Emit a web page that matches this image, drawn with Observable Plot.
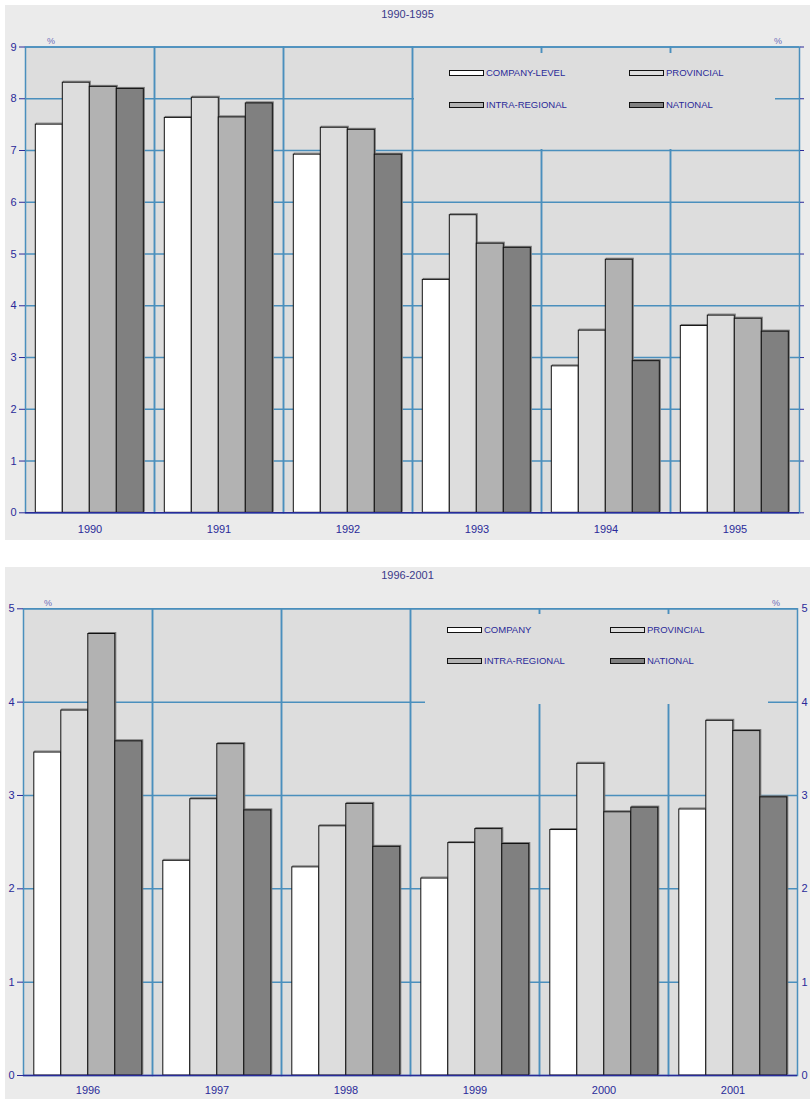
<!DOCTYPE html>
<html>
<head>
<meta charset="utf-8">
<script src="https://cdn.jsdelivr.net/npm/d3@7"></script>
<script src="https://cdn.jsdelivr.net/npm/@observablehq/plot@0.6"></script>
<style>
  body { margin: 0; background: #ffffff; width: 810px; height: 1099px; position: relative; overflow: hidden; font-family: "Liberation Sans", Arial, sans-serif; }
  .panel { position: absolute; left: 5px; width: 805px; background: #ebebeb; overflow: hidden; }
  .panel svg { position: absolute; left: 0; top: 0; }
  .ttl { position: absolute; left: 0; width: 100%; text-align: center; font-size: 11px; color: #3a3a8a; }
  .pct { position: absolute; font-size: 9px; color: #6b6bb8; }
  .legend { position: absolute; background: #dddddd; }
  .item { position: absolute; display: flex; align-items: center; font-size: 9.5px; color: #2a2a99; white-space: nowrap; }
  .sw { width: 33px; height: 4px; border: 1px solid #111; margin-right: 2px; }
</style>
</head>
<body>
<div id="p1" class="panel" style="top:5px;height:535px;"></div>
<div id="p2" class="panel" style="top:567px;height:532px;"></div>
<script>
// ---- data ----
const seriesKeys = ["company", "provincial", "intra", "national"];
const seriesFills = ["#ffffff", "#dddddd", "#b2b2b2", "#808080"];
const legendTop = ["COMPANY-LEVEL", "PROVINCIAL", "INTRA-REGIONAL", "NATIONAL"];
const legendBottom = ["COMPANY", "PROVINCIAL", "INTRA-REGIONAL", "NATIONAL"];

const years1 = ["1990", "1991", "1992", "1993", "1994", "1995"];
const company1 = [7.50, 7.63, 6.92, 4.50, 2.83, 3.61];
const provincial1 = [8.31, 8.02, 7.44, 5.75, 3.52, 3.81];
const intra1 = [8.23, 7.64, 7.40, 5.20, 4.89, 3.75];
const national1 = [8.19, 7.91, 6.92, 5.12, 2.93, 3.50];
const yTicks1 = [0, 1, 2, 3, 4, 5, 6, 7, 8, 9];

const years2 = ["1996", "1997", "1998", "1999", "2000", "2001"];
const company2 = [3.46, 2.30, 2.23, 2.11, 2.63, 2.85];
const provincial2 = [3.91, 2.96, 2.67, 2.49, 3.34, 3.80];
const intra2 = [4.73, 3.55, 2.91, 2.64, 2.82, 3.69];
const national2 = [3.58, 2.84, 2.45, 2.48, 2.87, 2.98];
const yTicks2 = [0, 1, 2, 3, 4, 5];

const GRID = "#4a8fbd";
const AXIS = "#2a2a99";

function rowsOf(years, arrays) {
  return years.flatMap((yr, i) => seriesKeys.map((s, j) => ({year: yr, series: s, value: arrays[j][i]})));
}

function makeChart(cfg) {
  const panel = document.getElementById(cfg.id);
  const rows = rowsOf(cfg.years, cfg.arrays);
  const chart = Plot.plot({
    width: 805,
    height: cfg.height,
    marginLeft: cfg.ml, marginRight: cfg.mr, marginTop: cfg.mt, marginBottom: cfg.mb,
    style: {background: "transparent", fontFamily: "'Liberation Sans', Arial, sans-serif", fontSize: "11px", color: AXIS, overflow: "visible"},
    fx: {domain: cfg.years, padding: 0, label: null},
    x: {domain: seriesKeys, paddingInner: 0, paddingOuter: 0.36, axis: null},
    y: {domain: [0, cfg.yTicks[cfg.yTicks.length - 1]], label: null},
    color: {domain: seriesKeys, range: seriesFills},
    marks: [
      Plot.frame({fill: "#dddddd"}),
      Plot.ruleY(cfg.yTicks.slice(1), {stroke: GRID, strokeWidth: 1.5}),
      Plot.frame({stroke: GRID, strokeWidth: 1.5}),
      Plot.barY(rows, {fx: "year", x: "series", y: "value", fill: "series", stroke: "#777", strokeWidth: 1, dx: 1, dy: -1}),
      Plot.barY(rows, {fx: "year", x: "series", y: "value", fill: "series", stroke: "#111", strokeWidth: 1}),
      Plot.ruleY([0], {stroke: AXIS, strokeWidth: 1.5}),
      Plot.axisY({anchor: "left", ticks: cfg.yTicks, tickFormat: d3.format("d"), tickSize: 6, tickPadding: 3, line: true, color: AXIS, fontSize: 11, label: null}),
      Plot.axisY({anchor: "right", ticks: cfg.yTicks, tickFormat: cfg.rightLabels ? d3.format("d") : () => "", tickSize: cfg.rightLabels ? 0 : 4, tickPadding: 4, line: true, color: AXIS, fontSize: 11, label: null}),
      Plot.axisFx({anchor: "bottom", tickSize: 0, tickPadding: cfg.tp, color: AXIS, fontSize: 11, label: null})
    ]
  });
  panel.appendChild(chart);

  const t = document.createElement("div");
  t.className = "ttl"; t.style.top = cfg.titleTop + "px"; t.textContent = cfg.title;
  panel.appendChild(t);

  cfg.pct.forEach(([x, y]) => {
    const p = document.createElement("div");
    p.className = "pct"; p.style.left = x + "px"; p.style.top = y + "px"; p.textContent = "%";
    panel.appendChild(p);
  });

  const lg = document.createElement("div");
  lg.className = "legend";
  Object.assign(lg.style, {left: cfg.lg.x + "px", top: cfg.lg.y + "px", width: cfg.lg.w + "px", height: cfg.lg.h + "px"});
  cfg.labels.forEach((lab, j) => {
    const it = document.createElement("div");
    it.className = "item";
    it.style.left = cfg.lg.items[j][0] + "px";
    it.style.top = cfg.lg.items[j][1] + "px";
    const sw = document.createElement("div");
    sw.className = "sw"; sw.style.background = seriesFills[j];
    const tx = document.createElement("span"); tx.textContent = lab;
    it.appendChild(sw); it.appendChild(tx);
    lg.appendChild(it);
  });
  panel.appendChild(lg);
}

makeChart({
  id: "p1", height: 535, ml: 17.7, mr: 8, mt: 41.5, mb: 27.7, tp: 12, rightLabels: false,
  years: years1, arrays: [company1, provincial1, intra1, national1], yTicks: yTicks1,
  title: "1990-1995", titleTop: 3, pct: [[42, 31], [769, 31]],
  labels: legendTop,
  lg: {x: 409, y: 48, w: 361, h: 96, items: [[35, 14], [215, 14], [35, 46], [215, 46]]}
});

makeChart({
  id: "p2", height: 532, ml: 15.2, mr: 10.5, mt: 41.3, mb: 24, tp: 11, rightLabels: true,
  years: years2, arrays: [company2, provincial2, intra2, national2], yTicks: yTicks2,
  title: "1996-2001", titleTop: 2, pct: [[39, 31], [767, 31]],
  labels: legendBottom,
  lg: {x: 420, y: 47, w: 343, h: 90, items: [[22, 10], [185, 10], [22, 41], [185, 41]]}
});
</script>
</body>
</html>
